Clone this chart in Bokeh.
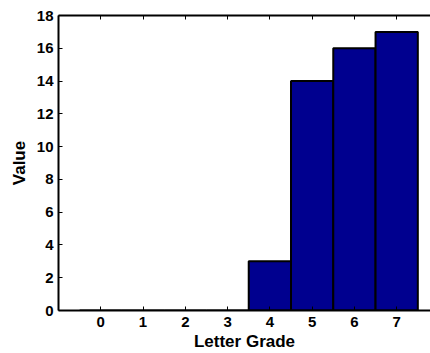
from bokeh.plotting import figure
from bokeh.models import LinearAxis, FixedTicker, Range1d
from bokeh.embed import file_html
from bokeh.resources import INLINE

grades = [0, 1, 2, 3, 4, 5, 6, 7]
counts = [0, 0, 0, 0, 3, 14, 16, 17]
x_ticks = [0, 1, 2, 3, 4, 5, 6, 7]
y_ticks = [0, 2, 4, 6, 8, 10, 12, 14, 16, 18]

FONT = "Liberation Sans"

p = figure(width=430, height=353, output_backend="svg", toolbar_location=None,
           x_range=Range1d(-1, 7.8), y_range=Range1d(0, 18),
           x_axis_label="Letter Grade", y_axis_label="Value",
           min_border_left=58, min_border_right=0, min_border_top=15, min_border_bottom=43)
p.outline_line_color = None
p.grid.visible = False
p.background_fill_color = "white"
p.border_fill_color = "white"

p.vbar(x=grades, top=counts, width=1.0, bottom=0, fill_color="#00008F",
       line_color="black", line_width=2)

for ax in [p.xaxis[0], p.yaxis[0]]:
    ax.axis_line_width = 2
    ax.axis_line_color = "black"
    ax.major_tick_in = 4
    ax.major_tick_out = 0
    ax.major_tick_line_width = 1
    ax.minor_tick_line_color = None
    ax.major_label_text_font = FONT
    ax.major_label_text_font_style = "bold"
    ax.major_label_text_font_size = "15px"
    ax.major_label_text_color = "black"
    ax.axis_label_text_font = FONT
    ax.axis_label_text_font_style = "bold"
    ax.axis_label_text_font_size = "17px"
    ax.axis_label_text_color = "black"

p.xaxis[0].ticker = FixedTicker(ticks=x_ticks)
p.yaxis[0].ticker = FixedTicker(ticks=y_ticks)
p.xaxis[0].major_label_standoff = 6
p.xaxis[0].axis_label_standoff = 2
p.yaxis[0].major_label_standoff = 5
p.yaxis[0].axis_label_standoff = 5

top = LinearAxis(ticker=FixedTicker(ticks=x_ticks), axis_line_width=2,
                 major_tick_in=4, major_tick_out=0, minor_tick_line_color=None,
                 major_label_overrides={t: "" for t in x_ticks}, major_label_standoff=0)
p.add_layout(top, "above")

open("out.html", "w").write(file_html(p, INLINE))
